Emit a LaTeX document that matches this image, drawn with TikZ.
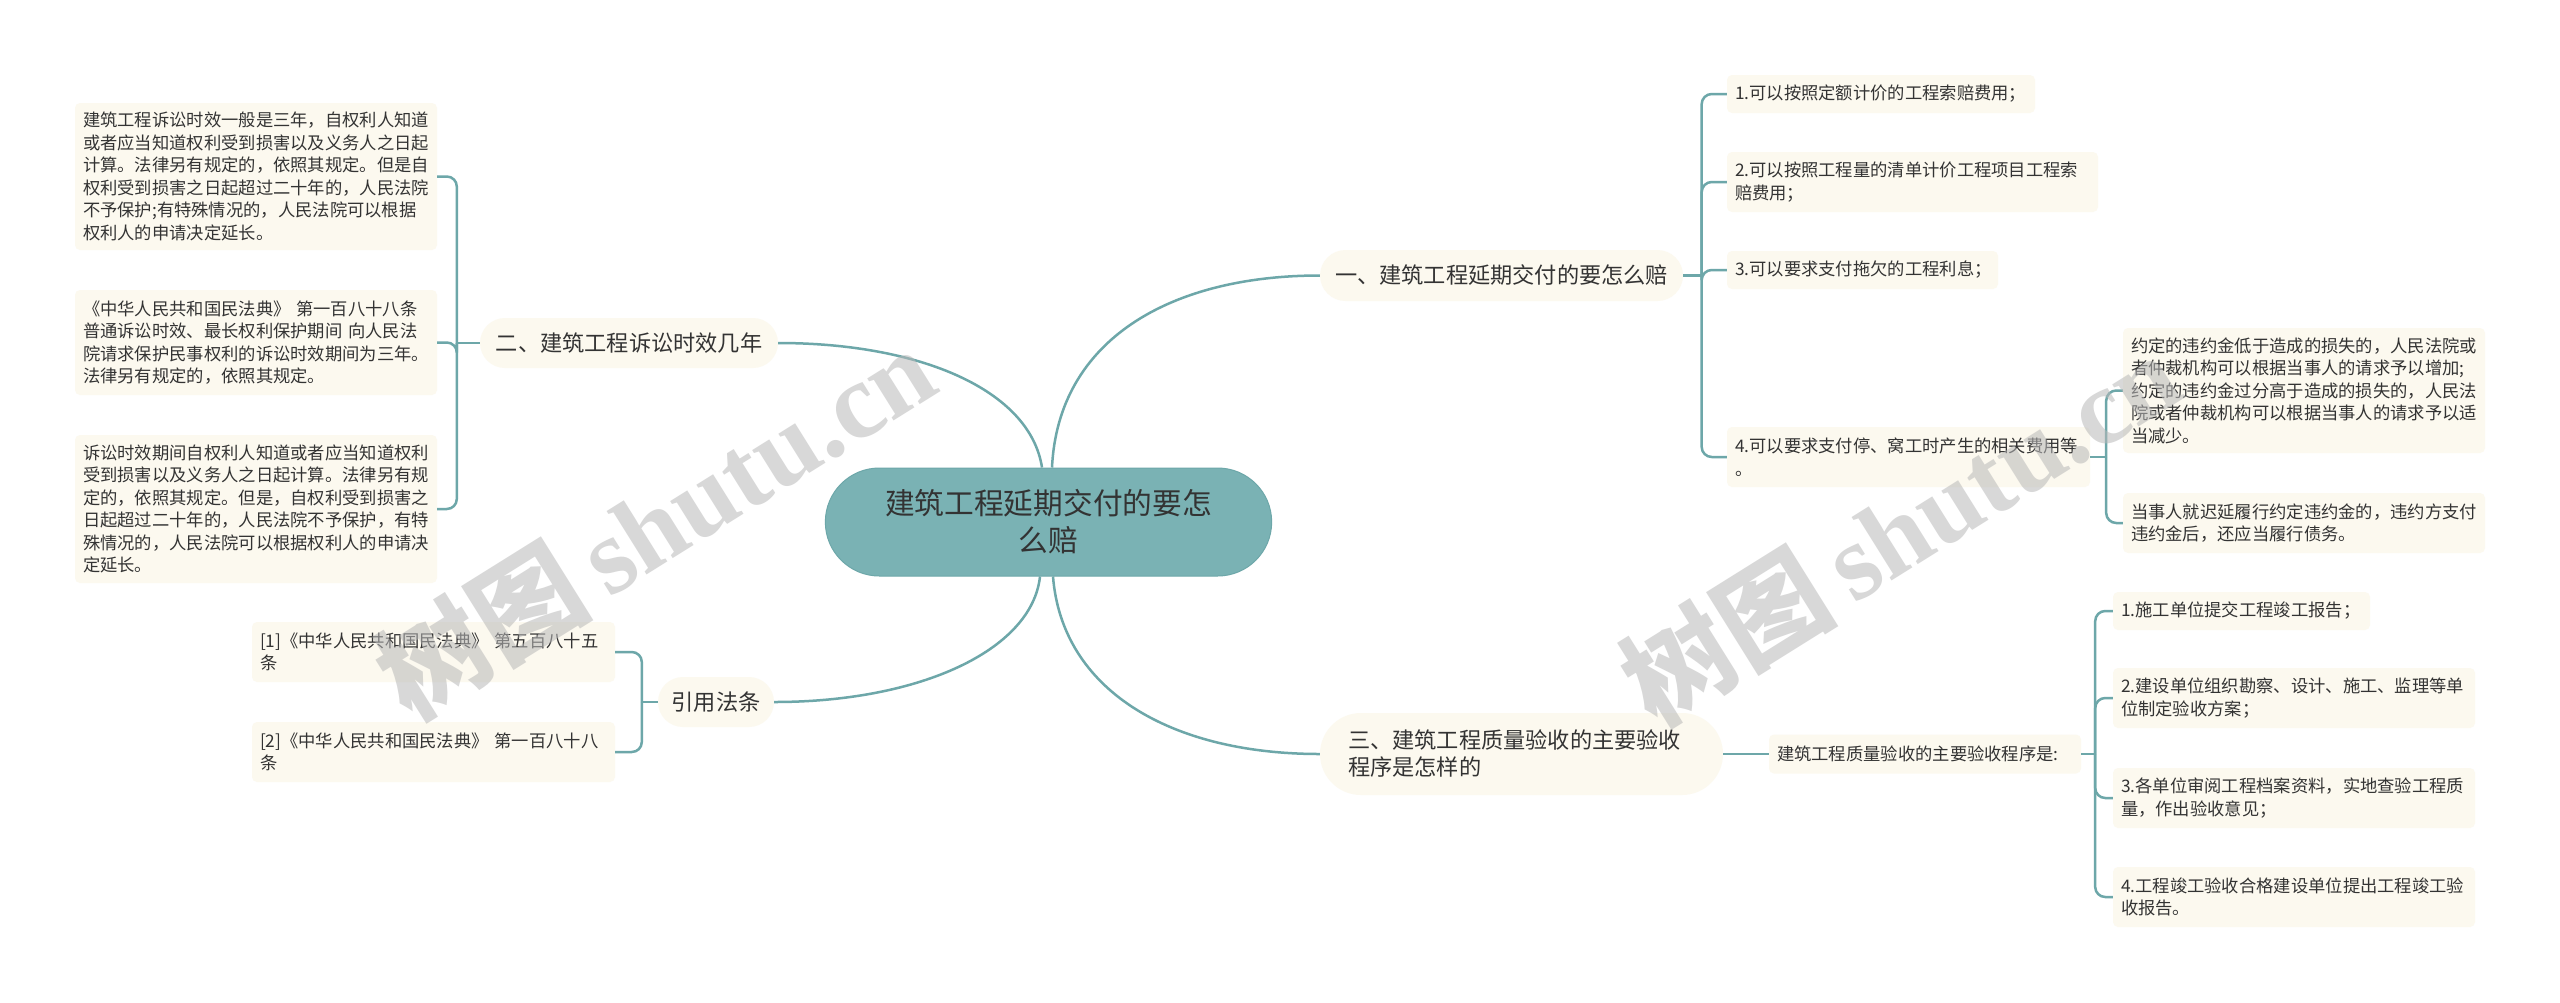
\documentclass[tikz,border=0pt]{standalone}
\usepackage{fontspec}
\setmainfont{Noto Sans CJK SC}
\newfontfamily\wmserif{Liberation Serif}
\usetikzlibrary{shapes.misc}
\definecolor{linecol}{HTML}{6DA7A9}
\definecolor{leafbg}{HTML}{FCF9EF}
\definecolor{rootbg}{HTML}{7AB2B4}
\definecolor{txt}{HTML}{333333}
\definecolor{wmcol}{HTML}{B8B8B8}
\setlength\parindent{0pt}
\begin{document}
\begin{tikzpicture}[x=1pt,y=-1pt,
 conn/.style={draw=linecol, line width=2.5pt},
 tree/.style={conn, rounded corners=10pt},
 leaf/.style={rectangle, rounded corners=5pt, fill=leafbg, inner xsep=8pt, inner ysep=0pt, align=left, text=txt, font=\fontsize{17.3}{22.5}\selectfont},
 pill/.style={rounded rectangle, fill=leafbg, inner xsep=10pt, inner ysep=0pt, text=txt, font=\fontsize{22.2}{27}\selectfont},
 root/.style={rounded rectangle, fill=rootbg, draw=linecol, line width=1pt, text=txt, align=center, font=\fontsize{29.7}{37}\selectfont},
 wm/.style={text=wmcol, text opacity=0.55, font=\fontsize{108}{108}\selectfont, rotate=32, inner sep=0pt}
]
\path[use as bounding box, fill=white] (0,0) rectangle (2560,1002);

% root and main branches
\node[root, minimum width=453pt, minimum height=108pt] (root) at (1048.5,522) {建筑工程延期交付的要怎\\么赔};
\node[pill, minimum width=383pt, minimum height=51pt] (b1) at (1501.5,275.5) {一、建筑工程延期交付的要怎么赔};
\node[pill, minimum width=318pt, minimum height=50pt] (b2) at (629,343) {二、建筑工程诉讼时效几年};
\node[pill, minimum width=423pt, minimum height=82pt, text width=347pt, align=left] (b3) at (1521.5,754) {三、建筑工程质量验收的主要验收\\程序是怎样的};
\node[pill, minimum width=136pt, minimum height=50pt] (ref) at (716,702) {引用法条};

% left leaves of branch 2
\node[leaf, text width=346pt, minimum height=147pt] (l1) at (256,176.5) {建筑工程诉讼时效一般是三年，自权利人知道\\或者应当知道权利受到损害以及义务人之日起\\计算。法律另有规定的，依照其规定。但是自\\权利受到损害之日起超过二十年的，人民法院\\不予保护;有特殊情况的，人民法院可以根据\\权利人的申请决定延长。};
\node[leaf, text width=346pt, minimum height=105pt] (l2) at (256,342.5) {《中华人民共和国民法典》~第一百八十八条\\普通诉讼时效、最长权利保护期间~向人民法\\院请求保护民事权利的诉讼时效期间为三年。\\法律另有规定的，依照其规定。};
\node[leaf, text width=346pt, minimum height=148pt] (l3) at (256,509) {诉讼时效期间自权利人知道或者应当知道权利\\受到损害以及义务人之日起计算。法律另有规\\定的，依照其规定。但是，自权利受到损害之\\日起超过二十年的，人民法院不予保护，有特\\殊情况的，人民法院可以根据权利人的申请决\\定延长。};

% references
\node[leaf, text width=347pt, minimum height=60pt] (r1) at (433.5,652) {[1]《中华人民共和国民法典》~第五百八十五\\条};
\node[leaf, text width=347pt, minimum height=60pt] (r2) at (433.5,752) {[2]《中华人民共和国民法典》~第一百八十八\\条};

% branch 1 leaves
\node[leaf, text width=292pt, minimum height=38pt] (c1) at (1881,94) {1.可以按照定额计价的工程索赔费用；};
\node[leaf, text width=355pt, minimum height=60pt] (c2) at (1912.5,182) {2.可以按照工程量的清单计价工程项目工程索\\赔费用；};
\node[leaf, text width=255pt, minimum height=38pt] (c3) at (1862.5,270) {3.可以要求支付拖欠的工程利息；};
\node[leaf, text width=347pt, minimum height=60pt] (c4) at (1908.5,457) {4.可以要求支付停、窝工时产生的相关费用等\\。};
\node[leaf, text width=346pt, minimum height=125pt] (c4a) at (2304,390.5) {约定的违约金低于造成的损失的，人民法院或\\者仲裁机构可以根据当事人的请求予以增加;\\约定的违约金过分高于造成的损失的，人民法\\院或者仲裁机构可以根据当事人的请求予以适\\当减少。};
\node[leaf, text width=346pt, minimum height=60pt] (c4b) at (2304,523) {当事人就迟延履行约定违约金的，违约方支付\\违约金后，还应当履行债务。};

% branch 3 leaves
\node[leaf, text width=296pt, minimum height=39pt] (b3t) at (1925,754) {建筑工程质量验收的主要验收程序是:};
\node[leaf, text width=241pt, minimum height=38pt] (d1) at (2241.5,611) {1.施工单位提交工程竣工报告；};
\node[leaf, text width=346pt, minimum height=60pt] (d2) at (2294,698) {2.建设单位组织勘察、设计、施工、监理等单\\位制定验收方案；};
\node[leaf, text width=346pt, minimum height=60pt] (d3) at (2294,798) {3.各单位审阅工程档案资料，实地查验工程质\\量，作出验收意见；};
\node[leaf, text width=346pt, minimum height=60pt] (d4) at (2294,897) {4.工程竣工验收合格建设单位提出工程竣工验\\收报告。};

% root connectors
\draw[conn] ([xshift=-6.5pt]root.north) .. controls (1030,390) and (920,343) .. (b2.east);
\draw[conn] ([xshift=3.5pt]root.north) .. controls (1058,340) and (1170,275.5) .. (b1.west);
\draw[conn] ([xshift=-8.5pt]root.south) .. controls (1032,650) and (920,702) .. (ref.east);
\draw[conn] ([xshift=4.5pt]root.south) .. controls (1062,690) and (1170,754) .. (b3.west);

% branch 1 tree
\coordinate (j1) at ([xshift=18.5pt]b1.east);
\draw[conn] (b1.east) -- (j1);
\draw[tree] (j1) |- (c1.west);
\draw[tree] (j1) |- (c2.west);
\draw[tree] (j1) |- (c3.west);
\draw[tree] (j1) |- (c4.west);

\coordinate (j4) at ([xshift=16pt]c4.east);
\draw[conn] (c4.east) -- (j4);
\draw[tree] (j4) |- (c4a.west);
\draw[tree] (j4) |- (c4b.west);

% branch 2 tree
\coordinate (j2) at ([xshift=-23pt]b2.west);
\draw[conn] (b2.west) -- (j2);
\draw[tree] (j2) |- (l1.east);
\draw[tree] (j2) |- (l2.east);
\draw[tree] (j2) |- (l3.east);

% references tree
\coordinate (jr) at ([xshift=-16pt]ref.west);
\draw[conn] (ref.west) -- (jr);
\draw[tree] (jr) |- (r1.east);
\draw[tree] (jr) |- (r2.east);

% branch 3 tree
\draw[conn] (b3.east) -- (b3t.west);
\coordinate (j3) at ([xshift=14pt]b3t.east);
\draw[conn] (b3t.east) -- (j3);
\draw[tree] (j3) |- (d1.west);
\draw[tree] (j3) |- (d2.west);
\draw[tree] (j3) |- (d3.west);
\draw[tree] (j3) |- (d4.west);

% watermarks
\node[wm] (wm1) at (655,522) {{\bfseries 树图}\,{\wmserif\bfseries shutu.cn}};
\node[wm] (wm2) at (1900,528) {{\bfseries 树图}\,{\wmserif\bfseries shutu.cn}};
\end{tikzpicture}
\end{document}
